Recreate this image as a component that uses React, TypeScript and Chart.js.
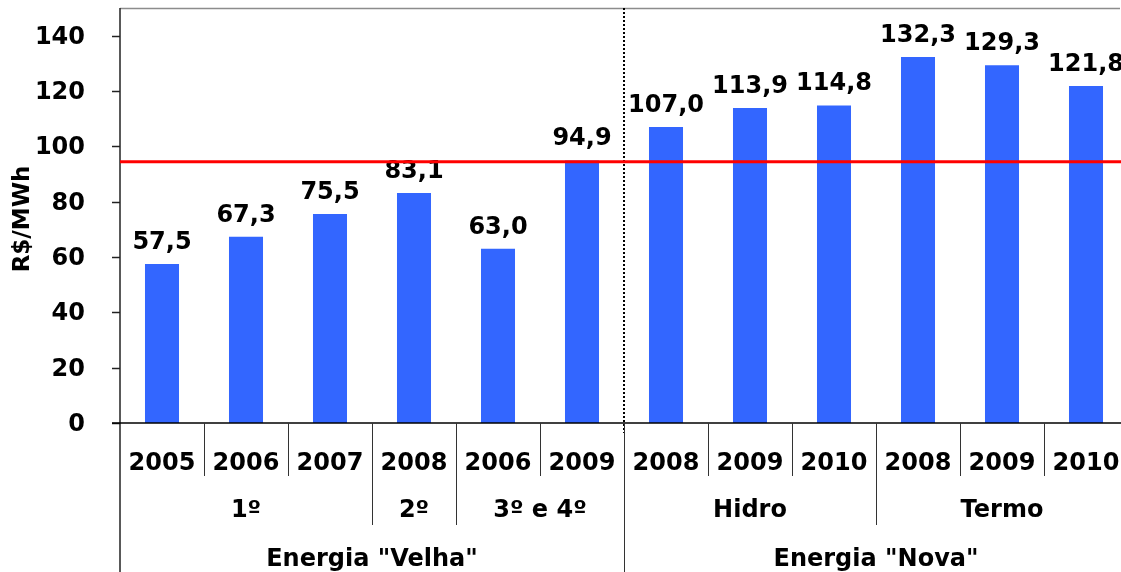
import React, { useEffect, useRef } from "react";
import { Chart, registerables } from "chart.js";

Chart.register(...registerables);

const years = ["2005", "2006", "2007", "2008", "2006", "2009", "2008", "2009", "2010", "2008", "2009", "2010"];
const values = [57.5, 67.3, 75.5, 83.1, 63.0, 94.9, 107.0, 113.9, 114.8, 132.3, 129.3, 121.8];
const groupLabels = ["1º", "2º", "3º e 4º", "Hidro", "Termo"];
const groupStarts = [0, 3, 4, 6, 9];
const groupEnds = [2, 3, 5, 8, 11];
const topLabels = ['Energia "Velha"', 'Energia "Nova"'];
const topStarts = [0, 6];
const topEnds = [5, 11];
const referenceValue = 94.4;
const yTicks = [0, 20, 40, 60, 80, 100, 120, 140];

const FONT = "'DejaVu Sans', Verdana, sans-serif";

export default function App() {
  const ref = useRef<HTMLCanvasElement | null>(null);

  useEffect(() => {
    const canvas = ref.current;
    if (!canvas) return;

    const overlay = {
      id: "overlay",
      afterDatasetsDraw(chart: any) {
        const ctx = chart.ctx;
        const area = chart.chartArea;
        const xs = chart.scales.x;
        const ys = chart.scales.y;
        const band = xs.getPixelForValue(1) - xs.getPixelForValue(0);
        const edge = (i: number) => xs.getPixelForValue(i) - band / 2;
        ctx.save();

        // top border
        ctx.strokeStyle = "#8c8c8c";
        ctx.lineWidth = 1.5;
        ctx.beginPath();
        ctx.moveTo(area.left, area.top + 0.5);
        ctx.lineTo(1120, area.top + 0.5);
        ctx.stroke();

        // y axis line + ticks + labels
        ctx.strokeStyle = "#222";
        ctx.lineWidth = 1.5;
        ctx.beginPath();
        ctx.moveTo(area.left, area.top);
        ctx.lineTo(area.left, 572);
        ctx.stroke();
        ctx.fillStyle = "#000";
        ctx.font = `bold 24px ${FONT}`;
        ctx.textAlign = "right";
        ctx.textBaseline = "middle";
        yTicks.forEach((t) => {
          const y = Math.round(ys.getPixelForValue(t)) + 0.5;
          ctx.beginPath();
          ctx.moveTo(area.left - 8, y);
          ctx.lineTo(area.left, y);
          ctx.stroke();
          ctx.fillText(String(t), area.left - 35, y + 1);
        });

        // data labels
        ctx.fillStyle = "#000";
        ctx.font = `bold 24px ${FONT}`;
        ctx.textAlign = "center";
        ctx.textBaseline = "alphabetic";
        values.forEach((v, i) => {
          const x = xs.getPixelForValue(i);
          const y = ys.getPixelForValue(v);
          ctx.fillText(v.toFixed(1).replace(".", ","), x, y - 15);
        });

        // dotted separator
        const xd = Math.round(edge(6));
        ctx.strokeStyle = "#000";
        ctx.lineWidth = 2;
        ctx.setLineDash([2, 2]);
        ctx.beginPath();
        ctx.moveTo(xd, area.top);
        ctx.lineTo(xd, area.bottom + 10);
        ctx.stroke();
        ctx.setLineDash([]);

        // red reference line
        const yr = ys.getPixelForValue(referenceValue);
        ctx.strokeStyle = "#ff0000";
        ctx.lineWidth = 3;
        ctx.beginPath();
        ctx.moveTo(area.left, yr);
        ctx.lineTo(area.right, yr);
        ctx.stroke();

        // x axis line
        ctx.strokeStyle = "#000";
        ctx.lineWidth = 1.5;
        ctx.beginPath();
        ctx.moveTo(area.left - 8, area.bottom);
        ctx.lineTo(area.right, area.bottom);
        ctx.stroke();

        // separators below axis
        const b = area.bottom;
        ctx.strokeStyle = "#333";
        ctx.lineWidth = 1;
        for (let i = 1; i < years.length; i++) {
          let len = 53;
          if (topStarts.includes(i)) len = 200;
          else if (groupStarts.includes(i)) len = 102;
          const x = Math.round(edge(i)) + 0.5;
          ctx.beginPath();
          ctx.moveTo(x, b);
          ctx.lineTo(x, b + len);
          ctx.stroke();
        }

        // category labels
        ctx.fillStyle = "#000";
        ctx.font = `bold 24px ${FONT}`;
        ctx.textBaseline = "middle";
        ctx.textAlign = "center";
        years.forEach((yv, i) => {
          ctx.fillText(yv, xs.getPixelForValue(i), b + 41);
        });
        groupLabels.forEach((g, k) => {
          const cx = (edge(groupStarts[k]) + edge(groupEnds[k] + 1)) / 2;
          ctx.fillText(g, cx, b + 88);
        });
        topLabels.forEach((t, k) => {
          const cx = (edge(topStarts[k]) + edge(topEnds[k] + 1)) / 2;
          ctx.fillText(t, cx, b + 137);
        });

        // y title
        ctx.save();
        ctx.translate(23, 219);
        ctx.rotate(-Math.PI / 2);
        ctx.font = `bold 23px ${FONT}`;
        ctx.textAlign = "center";
        ctx.textBaseline = "middle";
        ctx.fillText("R$/MWh", 0, 0);
        ctx.restore();

        ctx.restore();
      },
    };

    const chart = new Chart(canvas, {
      type: "bar",
      data: {
        labels: years,
        datasets: [
          {
            data: values,
            backgroundColor: "#3366ff",
            borderWidth: 0,
            categoryPercentage: 1,
            barPercentage: 0.405,
          },
        ],
      },
      options: {
        responsive: false,
        maintainAspectRatio: false,
        animation: false,
        devicePixelRatio: 1,
        layout: { padding: { top: 8, bottom: 149, left: 120, right: 12 } },
        plugins: { legend: { display: false }, tooltip: { enabled: false }, title: { display: false } },
        scales: {
          x: { display: false, offset: true },
          y: { display: false, min: 0, max: 150 },
        },
      },
      plugins: [overlay],
    });

    return () => chart.destroy();
  }, []);

  return (
    <div style={{ position: "fixed", left: 0, top: 0, width: 1121, height: 572, overflow: "hidden", background: "#fff" }}>
      <canvas ref={ref} width={1140} height={572} style={{ display: "block", width: 1140, height: 572 }} />
    </div>
  );
}
